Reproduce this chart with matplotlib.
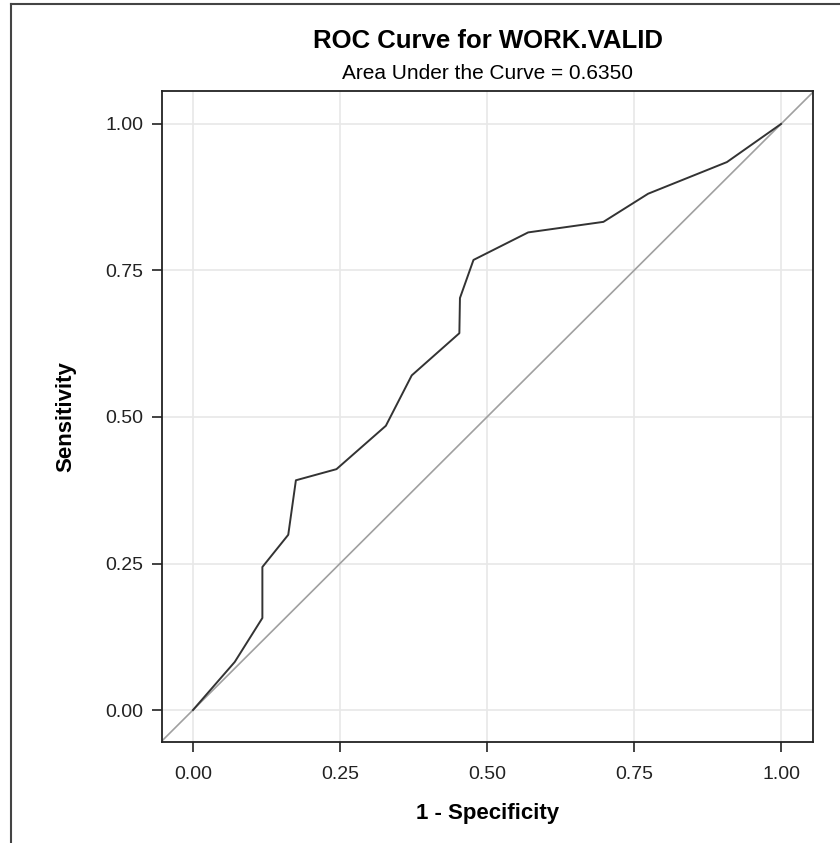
import matplotlib
matplotlib.use('Agg')
import matplotlib.pyplot as plt
from matplotlib.lines import Line2D

plt.rcParams['font.family'] = ['Liberation Sans', 'DejaVu Sans']

# ROC points
fpr = [0.0, 0.071, 0.118, 0.118, 0.162, 0.175, 0.244, 0.328, 0.372, 0.453,
       0.454, 0.477, 0.570, 0.698, 0.774, 0.908, 1.0]
tpr = [0.0, 0.082, 0.157, 0.244, 0.299, 0.392, 0.411, 0.485, 0.571, 0.643,
       0.703, 0.768, 0.815, 0.833, 0.881, 0.935, 1.0]
ticks = [0.0, 0.25, 0.5, 0.75, 1.0]
tick_labels = ['0.00', '0.25', '0.50', '0.75', '1.00']
auc = 0.6350

W, H = 840, 843
fig = plt.figure(figsize=(W / 100, H / 100), dpi=100)
ax = fig.add_axes([162 / W, 1 - 742 / H, (813 - 162) / W, (742 - 91) / H])

# grid, diagonal, curve
ax.grid(True, color='#e8e8e8', linewidth=1.2)
ax.set_axisbelow(True)
ax.axline((0, 0), (1, 1), color='#a0a0a0', linewidth=1.2, zorder=2)
ax.plot(fpr, tpr, color='#333333', linewidth=1.4, zorder=3)

ax.set_xlim(-0.0527, 1.0544)
ax.set_ylim(-0.0546, 1.0563)
ax.set_xticks(ticks)
ax.set_xticklabels(tick_labels)
ax.set_yticks(ticks)
ax.set_yticklabels(tick_labels)
ax.tick_params(direction='out', length=7.5, width=1.2, labelsize=14,
               colors='#222222')
ax.tick_params(axis='x', pad=10)
ax.tick_params(axis='y', pad=6)
for s in ax.spines.values():
    s.set_linewidth(1.3)
    s.set_color('#222222')

ax.set_xlabel('1 - Specificity', fontsize=16, fontweight='bold', labelpad=14)
ax.set_ylabel('Sensitivity', fontsize=16, fontweight='bold', labelpad=21)

fig.text((162 + 813) / 2 / W, 1 - 48 / H, 'ROC Curve for WORK.VALID',
         ha='center', va='baseline', fontsize=18.5, fontweight='bold')
fig.text((162 + 813) / 2 / W, 1 - 79 / H, 'Area Under the Curve = %.4f' % auc,
         ha='center', va='baseline', fontsize=15)

# outer frame (left and top edges only)
fig.add_artist(Line2D([11 / W, 11 / W], [0, 1 - 4 / H], color='#444444', linewidth=1.5))
fig.add_artist(Line2D([11 / W, 1], [1 - 4 / H, 1 - 4 / H], color='#444444', linewidth=1.5))

fig.savefig('out.png', dpi=100)
